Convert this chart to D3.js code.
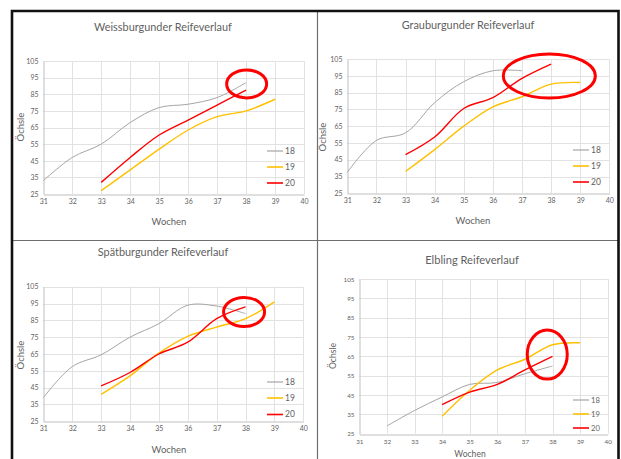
<!DOCTYPE html>
<meta charset="utf-8">
<style>
body { margin: 0; background: #fff; }
text { font-family: Lato, "Open Sans", sans-serif; fill: #5f5f5f; }
.grid line { stroke: #e2e2e2; stroke-width: 1; }
.line { fill: none; }
</style>
<body>
<script src="https://d3js.org/d3.v7.min.js"></script>
<script>

// weeks on the x axis (categories), ticks on the y axis
var weeks = [31, 32, 33, 34, 35, 36, 37, 38, 39, 40];
var yTicks = [25, 35, 45, 55, 65, 75, 85, 95, 105];
var years = ["18", "19", "20"];
var titles = ["Weissburgunder  Reifeverlauf", "Grauburgunder  Reifeverlauf",
              "Spätburgunder  Reifeverlauf", "Elbling Reifeverlauf"];

// Öchsle values per week 31..39 (null = no reading)
var weiss18 = [33, 47, 55, 68, 77, 79, 83, 92, null];
var weiss19 = [null, null, 27, 39.5, 52, 63.5, 71.5, 75, 82];
var weiss20 = [null, null, 32, 47, 60.5, 69.5, 78.5, 87.5, null];

var grau18 = [37.5, 56.5, 61, 79, 91.5, 98, 98, null, null];
var grau19 = [null, null, 38, 51, 65, 76.5, 82.5, 90, 91];
var grau20 = [null, null, 48, 58.5, 75.5, 82, 93.5, 102, null];

var spaet18 = [39, 57.5, 64.5, 75, 83, 94, 93.5, 89, null];
var spaet19 = [null, null, 41, 52, 65.5, 75.5, 81, 86, 96];
var spaet20 = [null, null, 46, 54, 65, 72, 86, 93, null];

var elb18 = [null, 29, 37, 44, 50.5, 51.5, 56, 60, null];
var elb19 = [null, null, null, 34, 47.5, 58, 63.5, 71, 72];
var elb20 = [null, null, null, 40, 46.5, 50.5, 58, 65, null];

// red circles drawn over the charts: centre in [week, Öchsle]
var marks = [[38.02, 91.2], [37.94, 94.9], [37.95, 90], [37.81, 65.9]];

var series = [[weiss18, weiss19, weiss20], [grau18, grau19, grau20],
              [spaet18, spaet19, spaet20], [elb18, elb19, elb20]];

var colors = {"18": "#a5a5a5", "19": "#ffc000", "20": "#ff0000"};
var widths = {"18": 1, "19": 1.4, "20": 1.4};

// layout of the four panels (pixels)
var panels = [
  {x0: 43.3, x1: 304, y0: 61, y1: 194, tx: 163, ty: 27, wx: 169, wy: 222, ox: 21, oy: 127,
   lx: 267, ly: [151, 167, 183], rx: 20, ry: 14, fs: 1},
  {x0: 347.3, x1: 609.3, y0: 59, y1: 193.3, tx: 468, ty: 25, wx: 473, wy: 221, ox: 323, oy: 137,
   lx: 573, ly: [150, 166, 182], rx: 46, ry: 22, fs: 1},
  {x0: 43.3, x1: 303.3, y0: 286.7, y1: 421.3, tx: 163, ty: 252, wx: 169, wy: 450, ox: 21, oy: 355,
   lx: 267, ly: [382, 398, 414.5], rx: 20.5, ry: 14.5, fs: 1},
  {x0: 359.3, x1: 607.7, y0: 279, y1: 433.7, tx: 472, ty: 260, wx: 470, wy: 454.5, ox: 333, oy: 356,
   lx: 573, ly: [400, 414, 428], rx: 20, ry: 24.5, fs: 0.9}
];

var svg = d3.select("body").append("svg")
    .attr("width", 621)
    .attr("height", 459);

panels.forEach(function(p, i) {
  var x = d3.scaleLinear().domain([31, 40]).range([p.x0, p.x1]);
  var y = d3.scaleLinear().domain([25, 105]).range([p.y1, p.y0]);
  var g = svg.append("g");

  // gridlines
  var grid = g.append("g").attr("class", "grid");
  grid.selectAll(".h").data(yTicks.slice(1)).enter().append("line")
      .attr("x1", p.x0).attr("x2", p.x1)
      .attr("y1", function(d) { return Math.round(y(d)) + 0.5; })
      .attr("y2", function(d) { return Math.round(y(d)) + 0.5; });
  grid.selectAll(".v").data(weeks.slice(1)).enter().append("line")
      .attr("y1", p.y0).attr("y2", p.y1)
      .attr("x1", function(d) { return Math.round(x(d)) + 0.5; })
      .attr("x2", function(d) { return Math.round(x(d)) + 0.5; });

  // axes
  var yAxis = g.append("g")
      .attr("transform", "translate(" + (Math.round(p.x0) + 0.5) + ",0)")
      .call(d3.axisLeft(y).tickValues(yTicks).tickSize(0).tickPadding(5));
  var xAxis = g.append("g")
      .attr("transform", "translate(0," + (Math.round(p.y1) + 0.5) + ")")
      .call(d3.axisBottom(x).tickValues(weeks).tickSize(0).tickPadding(5));
  [xAxis, yAxis].forEach(function(a) {
    a.select(".domain").attr("stroke", "#bfbfbf");
    a.selectAll("text").style("font-size", (7 * p.fs) + "px").attr("fill", "#5f5f5f");
  });

  // series lines
  var line = d3.line()
      .defined(function(d) { return d[1] != null; })
      .x(function(d) { return x(d[0]); })
      .y(function(d) { return y(d[1]); })
      .curve(d3.curveCatmullRom.alpha(0.5));

  series[i].forEach(function(vals, k) {
    var pts = vals.map(function(v, j) { return [weeks[j], v]; })
                  .filter(function(d) { return d[1] != null; });
    g.append("path")
        .datum(pts)
        .attr("class", "line")
        .attr("d", line)
        .attr("stroke", colors[years[k]])
        .attr("stroke-width", widths[years[k]]);
  });

  // legend
  years.forEach(function(yr, k) {
    g.append("line")
        .attr("x1", p.lx).attr("x2", p.lx + 16)
        .attr("y1", p.ly[k]).attr("y2", p.ly[k])
        .attr("stroke", colors[yr])
        .attr("stroke-width", widths[yr] + 0.2);
    g.append("text")
        .attr("x", p.lx + 18).attr("y", p.ly[k])
        .attr("dy", "0.35em")
        .style("font-size", (8.5 * p.fs) + "px")
        .text(yr);
  });

  // title and axis titles
  g.append("text")
      .attr("x", p.tx).attr("y", p.ty)
      .attr("dy", "0.35em")
      .style("text-anchor", "middle")
      .style("font-size", (10.9 * (i == 3 ? 1.02 : 1)) + "px")
      .text(titles[i]);
  g.append("text")
      .attr("x", p.wx).attr("y", p.wy)
      .attr("dy", "0.35em")
      .style("text-anchor", "middle")
      .style("font-size", (9.5 * p.fs) + "px")
      .text("Wochen");
  g.append("text")
      .attr("transform", "translate(" + p.ox + "," + p.oy + ") rotate(-90)")
      .attr("dy", "0.35em")
      .style("text-anchor", "middle")
      .style("font-size", (9.5 * p.fs) + "px")
      .text("Öchsle");

  // red annotation ellipse
  g.append("ellipse")
      .attr("cx", x(marks[i][0])).attr("cy", y(marks[i][1]))
      .attr("rx", p.rx).attr("ry", p.ry)
      .attr("fill", "none")
      .attr("stroke", "#ff0000")
      .attr("stroke-width", 3);
});

// panel dividers and outer frame
svg.append("line")
    .attr("x1", 317.5).attr("x2", 317.5).attr("y1", 12).attr("y2", 459)
    .attr("stroke", "#6f6f6f").attr("stroke-width", 1.2);
svg.append("line")
    .attr("x1", 12).attr("x2", 618).attr("y1", 240.5).attr("y2", 240.5)
    .attr("stroke", "#6f6f6f").attr("stroke-width", 1.2);
svg.append("path")
    .attr("d", "M12,470 V11 H618.5 V470")
    .attr("fill", "none")
    .attr("stroke", "#111")
    .attr("stroke-width", 2.6);

</script>
</body>
